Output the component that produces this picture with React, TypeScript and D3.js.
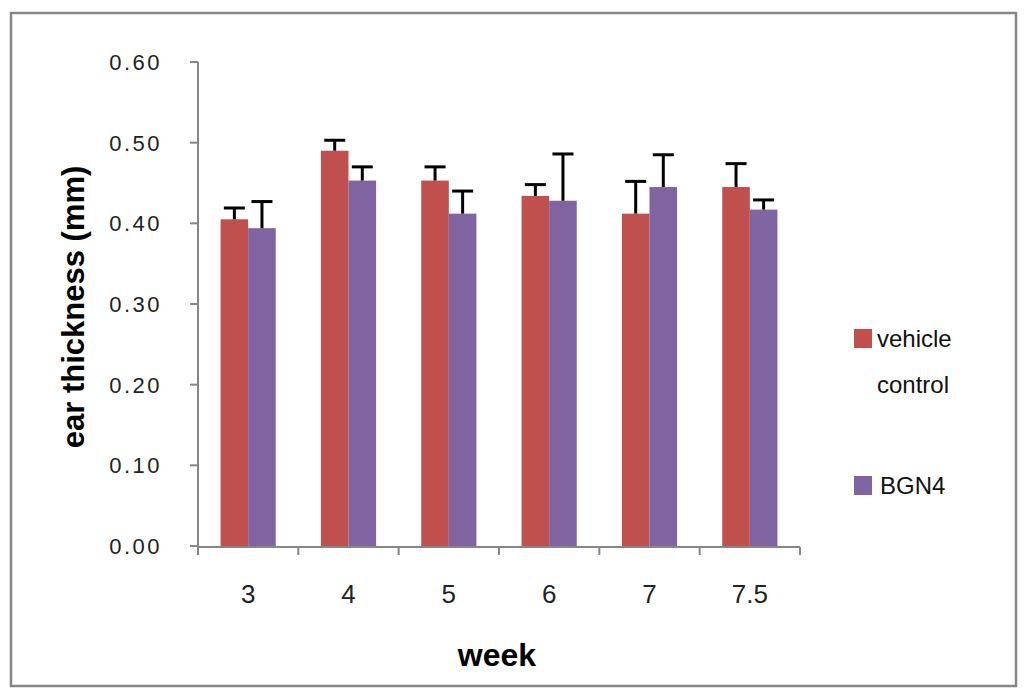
import * as d3 from 'd3'

// chart data
const weeks = ['3', '4', '5', '6', '7', '7.5']
const vehicleMean = [0.405, 0.490, 0.453, 0.434, 0.412, 0.445]
const vehicleErr = [0.014, 0.013, 0.017, 0.014, 0.040, 0.029]
const bgn4Mean = [0.394, 0.453, 0.412, 0.428, 0.445, 0.417]
const bgn4Err = [0.033, 0.017, 0.028, 0.058, 0.040, 0.012]
const yTicks = [0, 0.1, 0.2, 0.3, 0.4, 0.5, 0.6]

const series = [
    {name: 'vehicle control', lines: ['vehicle', 'control'], color: '#C0504D', mean: vehicleMean, err: vehicleErr},
    {name: 'BGN4', lines: ['BGN4'], color: '#8064A2', mean: bgn4Mean, err: bgn4Err},
]

const W = 1024, H = 694
const plot = {left: 198, right: 800, top: 62, bottom: 546}
const axisColor = '#868686'
const font = '"Liberation Sans", Arial, sans-serif'

export default function App() {
    const x0 = d3.scaleBand().domain(weeks).range([plot.left, plot.right]).paddingInner(0.45).paddingOuter(0.225)
    const x1 = d3.scaleBand().domain(series.map(s => s.name)).range([0, x0.bandwidth()])
    const y = d3.scaleLinear().domain([0, 0.6]).range([plot.bottom, plot.top])
    const step = x0.step()
    const bounds = d3.range(weeks.length + 1).map(i => plot.left + i * step)

    return (
        <svg width={W} height={H} style={{position: 'absolute', left: 0, top: 0, background: 'white'}}>
            <rect x={11} y={13} width={1005} height={673} fill="white" stroke={axisColor} strokeWidth={2.5}/>

            {/* bars */}
            {series.map(s => (
                <g key={s.name}>
                    {weeks.map((w, i) => (
                        <rect key={w} x={x0(w)! + x1(s.name)!} y={y(s.mean[i])}
                              width={x1.bandwidth()} height={y(0) - y(s.mean[i])} fill={s.color}/>
                    ))}
                </g>
            ))}

            {/* error bars, upper only */}
            {series.map(s => (
                <g key={s.name + '-err'} stroke="black" strokeWidth={3}>
                    {weeks.map((w, i) => {
                        const cx = x0(w)! + x1(s.name)! + x1.bandwidth() / 2
                        const top = y(s.mean[i] + s.err[i])
                        return (
                            <g key={w}>
                                <line x1={cx} x2={cx} y1={y(s.mean[i])} y2={top}/>
                                <line x1={cx - 10.5} x2={cx + 10.5} y1={top} y2={top}/>
                            </g>
                        )
                    })}
                </g>
            ))}

            {/* y axis */}
            <line x1={plot.left} x2={plot.left} y1={plot.top} y2={plot.bottom + 1} stroke={axisColor} strokeWidth={2}/>
            {yTicks.map(t => (
                <g key={t}>
                    <line x1={plot.left - 8} x2={plot.left} y1={y(t)} y2={y(t)} stroke={axisColor} strokeWidth={2}/>
                    <text x={162} y={y(t) + 8} textAnchor="end" fontFamily={font} fontSize={22}
                          letterSpacing={2.5} fill="#222">{d3.format('.2f')(t)}</text>
                </g>
            ))}

            {/* x axis */}
            <line x1={plot.left} x2={plot.right} y1={plot.bottom + 1} y2={plot.bottom + 1} stroke={axisColor} strokeWidth={2}/>
            {bounds.map((b, i) => (
                <line key={i} x1={b} x2={b} y1={plot.bottom + 1} y2={plot.bottom + 9} stroke={axisColor} strokeWidth={2}/>
            ))}
            {weeks.map(w => (
                <text key={w} x={x0(w)! + x0.bandwidth() / 2} y={603} textAnchor="middle"
                      fontFamily={font} fontSize={26} fill="#222">{w}</text>
            ))}

            {/* axis titles */}
            <text x={497} y={666} textAnchor="middle" fontFamily={font} fontSize={32} fontWeight="bold">week</text>
            <text transform={`translate(84 307) rotate(-90)`} textAnchor="middle" fontFamily={font}
                  fontSize={31} fontWeight="bold">ear thickness (mm)</text>

            {/* legend */}
            {series.map((s, i) => {
                const top = i === 0 ? 329 : 476
                return (
                    <g key={s.name + '-leg'}>
                        <rect x={854} y={top} width={18} height={19} fill={s.color}/>
                        {s.lines.map((ln, j) => (
                            <text key={ln} x={i === 0 ? 877 : 880} y={top + 18 + j * 46} fontFamily={font}
                                  fontSize={24} fill="#111">{ln}</text>
                        ))}
                    </g>
                )
            })}
        </svg>
    )
}
